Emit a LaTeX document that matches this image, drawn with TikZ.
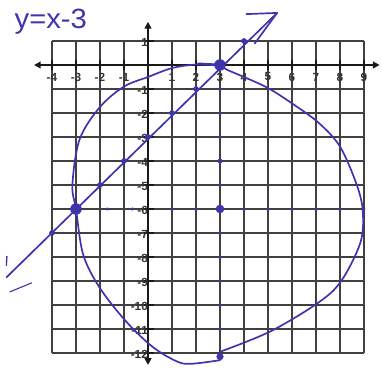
\documentclass[tikz,border=0pt]{standalone}
\usepackage{fontspec}
\setmainfont{Liberation Sans}
\usetikzlibrary{arrows.meta}
\definecolor{ink}{RGB}{62,52,172}
\tikzset{
  gridline/.style={line width=1.5pt, draw=black!75},
  axisline/.style={line width=2.8pt, draw=black!90, {Triangle[length=8pt,width=8pt]}-{Triangle[length=8pt,width=8pt]}},
  tickmark/.style={line width=2.2pt, draw=black!90},
  ticklabel/.style={font=\fontsize{14}{14}\selectfont\bfseries, text=black!80, inner sep=0pt},
  inkline/.style={line width=2pt, draw=ink, line cap=round, line join=round},
  bigdot/.style={fill=ink, draw=none},
}
\begin{document}
\begin{tikzpicture}[x=1cm,y=1cm]
\useasboundingbox (-6.1667,-12.958) rectangle (9.75,2.708);
% grid
\draw[gridline] (-4,-12) grid (9,1);
% axes
\draw[axisline] (-4.75,0) -- (9.65,0);
\draw[axisline] (0,-12.5) -- (0,1.8);
\foreach \x in {-4,...,-1,1,2,...,9} \draw[tickmark] (\x,0.2) -- (\x,-0.2);
\foreach \y in {1,-1,-2,...,-12} \draw[tickmark] (-0.15,\y) -- (0.25,\y);
% tick labels
\foreach \x in {-4,...,-1,1,2,...,9} \node[ticklabel] (xl\x) at (\x,-0.5) {\x};
\foreach \y in {1,-1,-2,...,-12} \node[ticklabel, anchor=east] (yl\y) at (0.0,\y-0.05) {\y};
% title
\node[text=ink, font=\fontsize{33}{33}\selectfont, inner sep=0pt] (title) at (-4.05,1.8) {\scalebox{1.05}[1]{y=x-3}};
% line y = x - 3
\coordinate (lstart) at (-5.9,-8.85);
\coordinate (ltip) at (5.38,2.17);
\draw[inkline] (lstart) -- (ltip);
\draw[inkline] (ltip) -- (4.1,2.12);
\draw[inkline] (ltip) -- (4.45,0.9);
\draw[inkline, line width=1.6pt] (-5.88,-7.98) -- (-5.9,-8.35);
\draw[inkline, line width=1.3pt] (-5.75,-9.45) -- (-4.85,-9.08);
% circle (hand drawn)
\draw[inkline] plot[smooth, tension=0.55] coordinates {
 (3,0) (3.3,-0.2) (4,-0.5) (5,-0.96) (6,-1.6) (7.1,-2.4) (8.0,-3.4) (8.7,-5.0)
 (8.95,-6.1) (8.85,-7.4) (8.05,-9.0) (7.1,-9.9) (5.1,-11.1) (3,-11.95)};
\draw[inkline] plot[smooth, tension=0.55] coordinates {
 (3,-12.3) (1.8,-12.45) (1.2,-12.35) (0.2,-11.75) (-0.9,-10.7) (-2,-9.3) (-2.7,-7.9)
 (-3,-6) (-3.15,-5.0) (-2.85,-3.1) (-2,-1.75) (-1,-0.9) (0,-0.5) (1,-0.13) (2,0.02) (3,0)};
\draw[inkline, line width=3pt] (2.1,0.05) -- (3,0);
% points on the line
\foreach \p in {(-4,-7),(-2,-5),(-1,-4),(0,-3),(1,-2),(2,-1),(4,1)} \fill[bigdot] \p circle (0.12);
\fill[bigdot] (-3,-6) circle (0.24);
\fill[bigdot] (3,0) circle (0.24);
\fill[bigdot] (3,-6) circle (0.18);
\fill[bigdot] (3,-12.15) circle (0.15);
% small dots
\foreach \y in {-1,-2,-3,-5,-7,-8,-9,-10,-11} \fill[bigdot] (3,\y) circle (0.07);
\fill[bigdot] (3,-4) circle (0.1);
\foreach \x in {-1.7,-0.65,1,2,4,5,6,7,8,9} \fill[bigdot] (\x,-6) circle (0.07);
\end{tikzpicture}
\end{document}
